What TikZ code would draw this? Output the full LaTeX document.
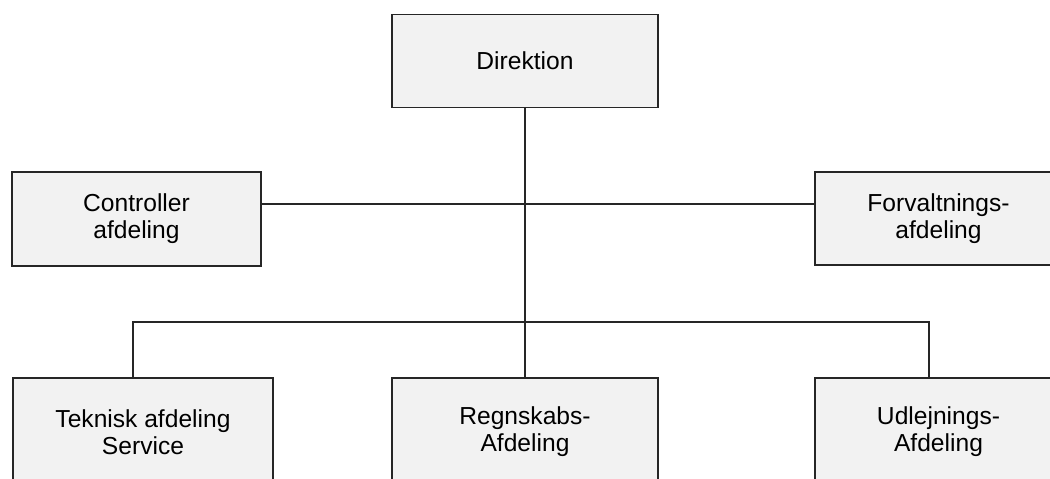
\documentclass[tikz,border=0pt]{standalone}
\usepackage{fontspec}
\setmainfont{Liberation Sans}
\usetikzlibrary{positioning}

\begin{document}
\begin{tikzpicture}[x=0.02cm,y=-0.02cm,
  afd/.style={draw=black!85,fill=black!5,line width=1pt,align=center,inner sep=0pt,
    font=\fontsize{14}{15.5}\selectfont},
  lin/.style={draw=black!85,line width=1pt}]
\useasboundingbox (0,0) rectangle (1050,479);
\clip (0,0) rectangle (1050,479);

\node[afd,minimum width=5.32cm,minimum height=1.86cm] (dir) at (525,61) {Direktion};
\node[afd,minimum width=4.98cm,minimum height=1.88cm] (ctrl) at (136.5,219) {Controller\\afdeling};
\node[afd,minimum width=4.94cm,minimum height=1.86cm] (forv) at (938.5,218.5) {Forvaltnings-\\afdeling};
\node[afd,minimum width=5.2cm,minimum height=2.16cm] (tek) at (143,432) {Teknisk afdeling\\Service};
\node[afd,minimum width=5.32cm,minimum height=2.16cm] (reg) at (525,432) {Regnskabs-\\Afdeling};
\node[afd,minimum width=4.94cm,minimum height=2.16cm] (udl) at (938.5,432) {Udlejnings-\\Afdeling};

\coordinate (mid) at (523,204);
\coordinate (tl) at (133,322);
\coordinate (tr) at (929,322);

\path[lin]
(dir.south) -- (reg.north)
(ctrl.east |- mid) -- (forv.west |- mid)
(tek.north -| tl) -- (tl) -- (tr) -- (udl.north -| tr);
\end{tikzpicture}
\end{document}
